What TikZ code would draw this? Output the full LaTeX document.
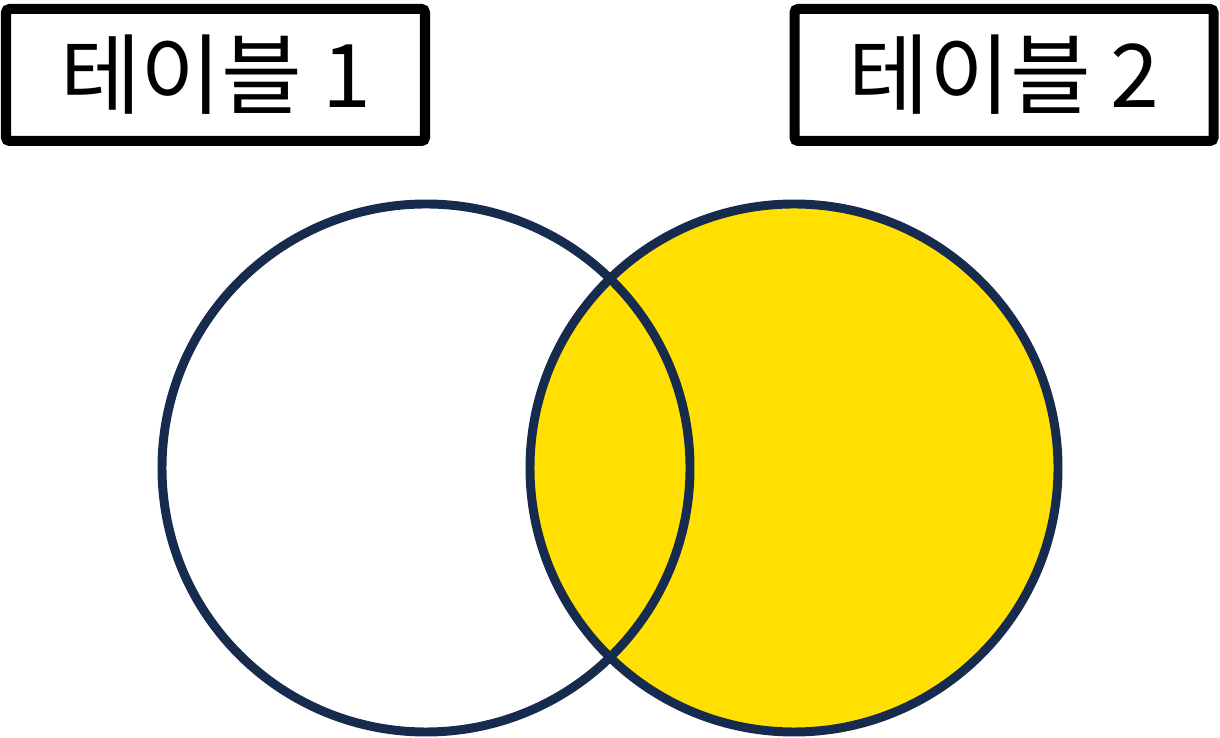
\documentclass[tikz,border=0pt]{standalone}
\usepackage{fontspec}
\newfontfamily\kofont{Noto Sans CJK KR}
\definecolor{vennline}{HTML}{172B4F}
\definecolor{vennfill}{HTML}{FFE000}
\tikzset{
	tbl/.style={draw, line width=5.7pt, rounded corners=2pt, minimum width=8.38cm, minimum height=2.64cm, inner sep=0pt, font=\kofont\fontsize{50}{52}\selectfont},
	set/.style={draw=vennline, line width=5.1pt}
}
\begin{document}
\begin{tikzpicture}
		\useasboundingbox (0,0) rectangle (24.4,14.76);
		\node[tbl] (tbl1) at (4.31,13.26) {테이블 1};
		\node[tbl] (tbl2) at (20.08,13.26) {테이블 2};
		\coordinate (a) at (8.52,5.40);
		\coordinate (b) at (15.88,5.40);
		\fill[vennfill] (b) circle (5.28);
		\draw[set] (a) circle (5.28);
		\draw[set] (b) circle (5.28);
	\end{tikzpicture}
\end{document}
